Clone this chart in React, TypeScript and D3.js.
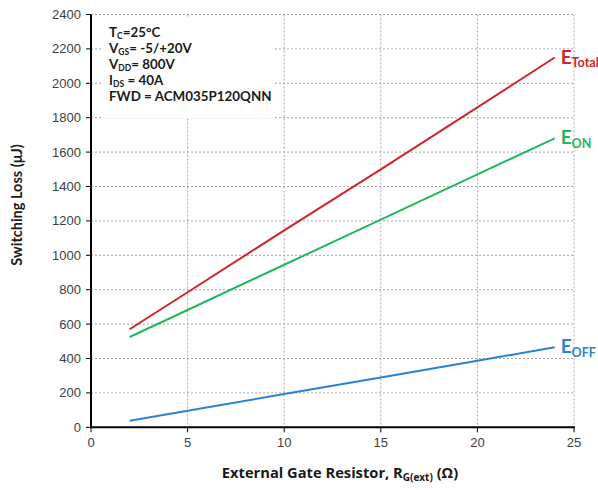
import React from "react";
import * as d3 from "d3";

const rg = [2, 5, 10, 15, 20, 24];
const eTotal = [570, 785, 1145, 1500, 1860, 2150];
const eOn = [525, 682, 945, 1207, 1470, 1680];
const eOff = [38, 96, 193, 290, 387, 465];
const xTicks = [0, 5, 10, 15, 20, 25];
const yTicks = [0, 200, 400, 600, 800, 1000, 1200, 1400, 1600, 1800, 2000, 2200, 2400];
const annot = [
  ["T", "C", "=25°C"],
  ["V", "GS", "= -5/+20V"],
  ["V", "DD", "= 800V"],
  ["I", "DS", " = 40A"],
  ["FWD = ACM035P120QNN", "", ""],
];

const W = 598, H = 490;
const L = 91, R = 574, T = 14.5, B = 427.3;

export default function App() {
  const x = d3.scaleLinear().domain([0, 25]).range([L, R]);
  const y = d3.scaleLinear().domain([0, 2400]).range([B, T]);
  const line = d3.line<number>().x((_, i) => x(rg[i])).y((d) => y(d));
  const series = [
    { v: eTotal, c: "#d0242b", main: "E", sub: "Total" },
    { v: eOn, c: "#22b75c", main: "E", sub: "ON" },
    { v: eOff, c: "#2a83d2", main: "E", sub: "OFF" },
  ];
  const grid = "#a6a6a6";
  const tickFont = "Liberation Sans, Arial, sans-serif";
  const boldFont = "Lato, Open Sans, sans-serif";
  return (
    <svg width={W} height={H} style={{ position: "absolute", left: 0, top: 0, background: "#fff" }}>
      <rect width={W} height={H} fill="#fff" />
      {yTicks.filter((t) => t > 0).map((t) => (
        <line key={"gy" + t} x1={L} x2={R} y1={y(t)} y2={y(t)} stroke={grid} strokeDasharray="2,2" strokeWidth={1} />
      ))}
      {xTicks.filter((t) => t > 0).map((t) => (
        <line key={"gx" + t} x1={x(t)} x2={x(t)} y1={T} y2={B} stroke={grid} strokeDasharray="2,2" strokeWidth={1} />
      ))}
      <rect x={102} y={17} width={173} height={101} fill="#fff" />
      <g fontFamily={boldFont} fontWeight={700} fontSize={13.4} fill="#1a1a1a">
        {annot.map((a, i) => (
          <text key={i} x={109} y={36.7 + i * 16}>
            {a[0]}
            {a[1] && <tspan fontSize={8.5} dy={2}>{a[1]}</tspan>}
            {a[1] && <tspan dy={-2}>{a[2]}</tspan>}
          </text>
        ))}
      </g>
      {series.map((s) => (
        <path key={s.sub} d={line(s.v) || ""} fill="none" stroke={s.c} strokeWidth={2} />
      ))}
      {series.map((s) => (
        <text key={"l" + s.sub} x={x(rg[rg.length - 1]) + 6} y={y(s.v[s.v.length - 1]) + 6} fill={s.c} fontFamily={boldFont} fontWeight={700} fontSize={19}>
          {s.main}
          <tspan fontSize={12.5} dy={3.5}>{s.sub}</tspan>
        </text>
      ))}
      <line x1={L} x2={L} y1={T} y2={B + 1} stroke="#000" strokeWidth={2} />
      <line x1={L - 1} x2={R + 1} y1={B} y2={B} stroke="#000" strokeWidth={2} />
      {yTicks.map((t) => (
        <line key={"ty" + t} x1={L - 5} x2={L} y1={y(t)} y2={y(t)} stroke="#000" strokeWidth={1} />
      ))}
      {xTicks.map((t) => (
        <line key={"tx" + t} x1={x(t)} x2={x(t)} y1={B} y2={B + 5} stroke="#000" strokeWidth={1} />
      ))}
      <g fontFamily={tickFont} fontSize={13} fill="#404040">
        {yTicks.map((t) => (
          <text key={"yl" + t} x={L - 10} y={y(t) + 4.5} textAnchor="end">{t}</text>
        ))}
        {xTicks.map((t) => (
          <text key={"xl" + t} x={x(t)} y={B + 19.5} textAnchor="middle">{t}</text>
        ))}
      </g>
      <text x={340} y={478} textAnchor="middle" fontFamily="Open Sans, sans-serif" fontWeight={700} fontSize={14.7} fill="#1a1a1a">
        External Gate Resistor, R<tspan fontSize={10} dy={3}>G(ext)</tspan><tspan dy={-3}> (Ω)</tspan>
      </text>
      <text transform={`translate(22,${205}) rotate(-90)`} textAnchor="middle" fontFamily={boldFont} fontWeight={700} fontSize={14.5} fill="#1a1a1a">
        Switching Loss  (μJ)
      </text>
    </svg>
  );
}
